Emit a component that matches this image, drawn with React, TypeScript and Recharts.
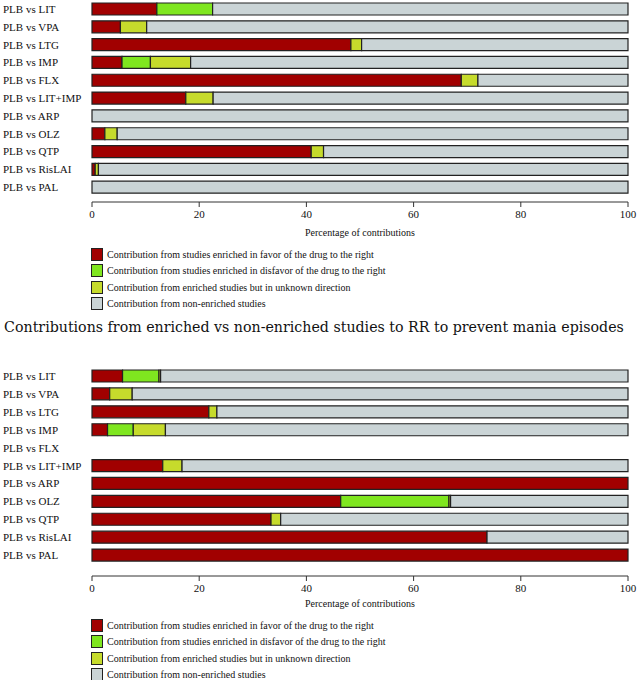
import React from 'react'
import { BarChart, Bar, XAxis, YAxis, Legend, Label } from 'recharts'

if (typeof document !== 'undefined') document.body.style.margin = '0'

const categories = [
  'PLB vs LIT',
  'PLB vs VPA',
  'PLB vs LTG',
  'PLB vs IMP',
  'PLB vs FLX',
  'PLB vs LIT+IMP',
  'PLB vs ARP',
  'PLB vs OLZ',
  'PLB vs QTP',
  'PLB vs RisLAI',
  'PLB vs PAL',
]

const seriesNames = [
  'Contribution from studies enriched in favor of the drug to the right',
  'Contribution from studies enriched in disfavor of the drug to the right',
  'Contribution from enriched studies but in unknown direction',
  'Contribution from non-enriched studies',
]
const seriesColors = ['#a10000', '#7fe61f', '#c6db2c', '#cad4d6']
const xTicks = [0, 20, 40, 60, 80, 100]

// upper panel (depression)
const favorTop = [12.1, 5.3, 48.3, 5.6, 68.9, 17.5, 0, 2.4, 40.9, 0.6, 0]
const disfavorTop = [10.4, 0, 0, 5.3, 0, 0, 0, 0, 0, 0, 0]
const unknownTop = [0, 4.9, 2.0, 7.5, 3.1, 5.1, 0, 2.3, 2.3, 0.6, 0]
const nonTop = [77.5, 89.8, 49.7, 81.6, 28.0, 77.4, 100, 95.3, 56.8, 98.8, 100]

// lower panel (mania)
const favorBot = [5.7, 3.3, 21.8, 2.9, 0, 13.2, 100, 46.4, 33.4, 73.7, 100]
const disfavorBot = [6.8, 0, 0, 4.8, 0, 0, 0, 20.2, 0, 0, 0]
const unknownBot = [0.3, 4.2, 1.5, 6.0, 0, 3.6, 0, 0.3, 1.8, 0, 0]
const nonBot = [87.2, 92.5, 76.7, 86.3, 0, 83.2, 0, 33.1, 64.8, 26.3, 0]

const SERIF = '"Liberation Serif", "Times New Roman", serif'
const keys = ['favor', 'disfavor', 'unknown', 'non']

function buildRows(a: number[], b: number[], c: number[], d: number[]) {
  return categories.map((name, i) => ({
    name,
    favor: a[i],
    disfavor: b[i],
    unknown: c[i],
    non: d[i],
  }))
}

const topData = buildRows(favorTop, disfavorTop, unknownTop, nonTop)
const botData = buildRows(favorBot, disfavorBot, unknownBot, nonBot)

const RowTick = (props: any) => {
  const { y, payload } = props
  return (
    <text x={3} y={y} dy={4} textAnchor="start" fontSize={11} fontFamily={SERIF} fill="#111">
      {payload.value}
    </text>
  )
}

const LegendBox = (props: any) => {
  const items = [...(props.payload || [])].sort(
    (a: any, b: any) => seriesNames.indexOf(a.value) - seriesNames.indexOf(b.value)
  )
  return (
    <div style={{ paddingLeft: 91 }}>
      {items.map((it: any) => (
        <div key={it.value} style={{ display: 'flex', alignItems: 'center', height: 16.5 }}>
          <span
            style={{
              display: 'inline-block',
              width: 10,
              height: 11,
              background: it.color,
              border: '1px solid #222',
              marginRight: 4,
            }}
          />
          <span style={{ fontSize: 10, fontFamily: SERIF, color: '#111' }}>{it.value}</span>
        </div>
      ))}
    </div>
  )
}

type PanelProps = {
  data: any[]
  height: number
  marginTop: number
  padBottom: number
  axisHeight: number
}

const Panel = ({ data, height, marginTop, padBottom, axisHeight }: PanelProps) => (
  <BarChart
    width={638}
    height={height}
    data={data}
    layout="vertical"
    margin={{ top: marginTop, right: 10, left: 0, bottom: 0 }}
    barCategoryGap={3}
  >
    <XAxis
      type="number"
      domain={[0, 100]}
      ticks={xTicks}
      height={axisHeight}
      tickSize={5}
      tickMargin={3}
      stroke="#333"
      tick={{ fontSize: 11, fontFamily: SERIF, fill: '#111' }}
    >
      <Label
        value="Percentage of contributions"
        position="insideBottom"
        offset={10}
        style={{ fontSize: 10, fontFamily: SERIF, fill: '#111' }}
      />
    </XAxis>
    <YAxis
      type="category"
      dataKey="name"
      width={92}
      interval={0}
      axisLine={false}
      tickLine={false}
      tick={<RowTick />}
      padding={{ top: 0, bottom: padBottom }}
    />
    <Legend layout="horizontal" verticalAlign="bottom" align="left" content={<LegendBox />} />
    {keys.map((k, i) => (
      <Bar
        key={k}
        dataKey={k}
        name={seriesNames[i]}
        stackId="s"
        fill={seriesColors[i]}
        stroke="#222"
        strokeWidth={1.2}
        isAnimationActive={false}
      />
    ))}
  </BarChart>
)

export default function App() {
  return (
    <div style={{ position: 'relative', width: 638, height: 680, overflow: 'hidden', background: '#fff' }}>
      <div style={{ position: 'absolute', left: 0, top: 0 }}>
        <Panel data={topData} height={312} marginTop={0} padBottom={6} axisHeight={44} />
      </div>
      <div
        style={{
          position: 'absolute',
          left: 0,
          top: 319,
          width: 628,
          textAlign: 'center',
          fontFamily: '"DejaVu Serif", serif',
          fontSize: 14.2,
          color: '#111',
          whiteSpace: 'nowrap',
        }}
      >
        Contributions from enriched vs non-enriched studies to RR to prevent mania episodes
      </div>
      <div style={{ position: 'absolute', left: 0, top: 360 }}>
        <Panel data={botData} height={323} marginTop={7} padBottom={12} axisHeight={41} />
      </div>
    </div>
  )
}
